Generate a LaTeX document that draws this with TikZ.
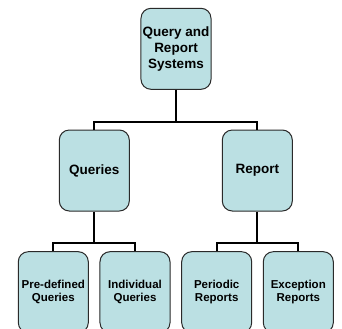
\documentclass[tikz,border=0pt]{standalone}
\usepackage{fontspec}
\setmainfont{Liberation Sans}
\definecolor{boxfill}{HTML}{BBE0E3}
\definecolor{boxline}{HTML}{2A2A2A}
\begin{document}
\begin{tikzpicture}[x=1bp,y=-1bp,
  orgbox/.style={draw=boxline, line width=1bp, fill=boxfill, rounded corners=10bp,
    minimum width=70bp, minimum height=81bp, inner sep=0pt, align=center},
  bigtxt/.style={font=\fontsize{13.5bp}{16bp}\selectfont\bfseries},
  smalltxt/.style={font=\fontsize{11.5bp}{13.3bp}\selectfont\bfseries},
  link/.style={draw=black, line width=2.2bp}]
\useasboundingbox (0,0) rectangle (342,329);
\node[orgbox, bigtxt] (top) at (176,48.8) {Query and\\Report\\Systems};
\node[orgbox, bigtxt] (q) at (94.3,170.5) {Queries};
\node[orgbox, bigtxt] (r) at (257.3,170.5) {Report};
\node[orgbox, smalltxt] (pq) at (53.3,292.2) {Pre-defined\\Queries};
\node[orgbox, smalltxt] (iq) at (135,292.2) {Individual\\Queries};
\node[orgbox, smalltxt] (pr) at (216.7,292.2) {Periodic\\Reports};
\node[orgbox, smalltxt] (er) at (298.3,292.2) {Exception\\Reports};
\coordinate (j1) at (176,121.7);
\coordinate (j2) at (94.3,242.7);
\coordinate (j3) at (257.3,242.7);
\draw[link] (top.south) -- (j1);
\draw[link] (q.north) |- (j1) -| (r.north);
\draw[link] (q.south) -- (j2);
\draw[link] (pq.north) |- (j2) -| (iq.north);
\draw[link] (r.south) -- (j3);
\draw[link] (pr.north) |- (j3) -| (er.north);
\end{tikzpicture}
\end{document}
